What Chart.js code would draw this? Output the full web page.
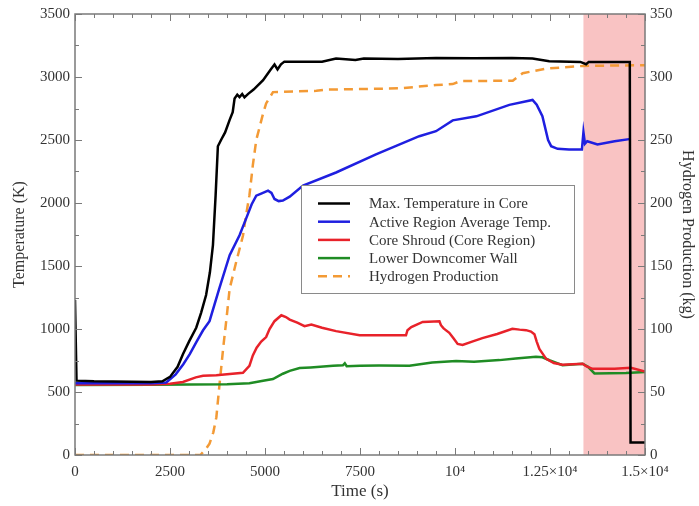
<!DOCTYPE html>
<html>
<head>
<meta charset="UTF-8">
<title>Core Temperatures and Hydrogen Production</title>
<script src="https://cdn.jsdelivr.net/npm/chart.js"></script>
<style>
    body { margin: 0; background: #fff; }
    #chart { display: block; }
</style>
</head>
<body>
<canvas id="chart" width="699" height="506"></canvas>
<script>
    // Values
    const maxTempTime  = [0, 40, 500, 1000, 1500, 2000, 2300, 2500, 2700, 2840, 3000, 3190, 3320, 3450, 3550, 3630, 3700, 3760, 3850, 3950, 4070, 4150, 4200, 4270, 4330, 4400, 4460, 4550, 4700, 4950, 5150, 5250, 5330, 5420, 5510, 6500, 6870, 7380, 7600, 8500, 9500, 10500, 11500, 12040, 12480, 13300, 13450, 13520, 14600, 14620, 15000];
    const maxTempValue = [1230, 590, 585, 583, 582, 580, 585, 620, 700, 800, 900, 1010, 1130, 1270, 1450, 1665, 2058, 2450, 2504, 2560, 2660, 2720, 2830, 2860, 2840, 2865, 2838, 2864, 2900, 2975, 3060, 3099, 3060, 3100, 3122, 3122, 3146, 3135, 3146, 3142, 3150, 3148, 3150, 3146, 3125, 3120, 3101, 3120, 3120, 100, 100];

    const avgTempTime  = [0, 1000, 2000, 2400, 2650, 2850, 3020, 3200, 3370, 3540, 3800, 4070, 4330, 4500, 4650, 4770, 4900, 5080, 5170, 5250, 5360, 5470, 5650, 6000, 6870, 7920, 9060, 9500, 9940, 10560, 11430, 12040, 12150, 12300, 12450, 12530, 12700, 13000, 13340, 13380, 13420, 13480, 13750, 14200, 14630];
    const avgTempValue = [570, 570, 570, 575, 640, 720, 800, 900, 990, 1062, 1324, 1586, 1744, 1874, 1990, 2058, 2075, 2098, 2080, 2032, 2015, 2019, 2050, 2139, 2242, 2386, 2530, 2570, 2656, 2688, 2779, 2818, 2780, 2689, 2500, 2451, 2430, 2425, 2425, 2562, 2470, 2490, 2464, 2490, 2509];

    const shroudTime  = [0, 2000, 2500, 2840, 3180, 3370, 3720, 4000, 4420, 4590, 4680, 4780, 4900, 5030, 5120, 5250, 5430, 5550, 5650, 5850, 6040, 6220, 6500, 6870, 7490, 8710, 8750, 8850, 9150, 9590, 9630, 9700, 9850, 9950, 10070, 10200, 10450, 10720, 11110, 11510, 11700, 11870, 12000, 12090, 12150, 12220, 12400, 12600, 12830, 13360, 13450, 13620, 14200, 14630, 15000];
    const shroudValue = [560, 560, 565, 580, 616, 629, 633, 640, 652, 708, 790, 852, 900, 936, 999, 1062, 1109, 1095, 1075, 1050, 1022, 1036, 1010, 983, 951, 950, 990, 1015, 1056, 1062, 1030, 1005, 970, 930, 881, 873, 900, 928, 960, 1001, 995, 991, 980, 959, 900, 841, 763, 730, 716, 724, 705, 684, 685, 692, 663];

    const downcomerTime  = [0, 2000, 4000, 4590, 4950, 5210, 5470, 5650, 5910, 6200, 6790, 7050, 7100, 7150, 7500, 8000, 8800, 9400, 10030, 10500, 11170, 11600, 12130, 12300, 12500, 12830, 13360, 13500, 13670, 14500, 15000];
    const downcomerValue = [555, 558, 562, 569, 590, 603, 645, 668, 690, 695, 708, 712, 728, 705, 708, 710, 708, 734, 747, 740, 753, 765, 779, 775, 750, 713, 724, 700, 647, 650, 658];

    const hydrogenTime  = [0, 3300, 3450, 3540, 3640, 3720, 3800, 3900, 4000, 4070, 4240, 4420, 4500, 4590, 4680, 4770, 4950, 5030, 5210, 6350, 6620, 8540, 9500, 9940, 10150, 11520, 11780, 12400, 13370, 15000];
    const hydrogenValue = [0, 0, 5, 9, 18, 30, 55, 85, 112, 132, 153, 174, 190, 206, 230, 250, 271, 279, 288, 289, 290, 291, 293.6, 294.4, 296.8, 297, 303, 306.7, 308.8, 309.4];

    const seriesLabels = ['Max. Temperature in Core', 'Active Region Average Temp.', 'Core Shroud (Core Region)', 'Lower Downcomer Wall', 'Hydrogen Production'];

    const xTickValues = [0, 2500, 5000, 7500, 10000, 12500, 15000];
    const xTickLabels = ['0', '2500', '5000', '7500', '10\u2074', '1.25\u00d710\u2074', '1.5\u00d710\u2074'];

    const shadeStart = 13380;
    const shadeEnd = 15000;

    const serif = "'Liberation Serif', 'DejaVu Serif', serif";
    const axisColor = '#7a7a7a';
    const textColor = '#333333';

    function toPoints(xs, ys) {
        return xs.map((x, i) => ({ x: x, y: ys[i] }));
    }

    // pink band for the late period
    const shadePlugin = {
        id: 'shade',
        beforeDatasetsDraw(chart) {
            const { ctx, chartArea, scales } = chart;
            const x0 = scales.x.getPixelForValue(shadeStart);
            const x1 = scales.x.getPixelForValue(shadeEnd);
            ctx.save();
            ctx.fillStyle = '#f9c3c3';
            ctx.fillRect(x0, chartArea.top, x1 - x0, chartArea.bottom - chartArea.top);
            ctx.restore();
        }
    };

    // box round the plot with inward ticks on all four sides
    const framePlugin = {
        id: 'frame',
        afterDatasetsDraw(chart) {
            const { ctx, chartArea: a, scales } = chart;
            ctx.save();
            ctx.strokeStyle = axisColor;
            ctx.lineWidth = 1;
            for (let v = 0; v <= 15000; v += 500) {
                const px = Math.round(scales.x.getPixelForValue(v)) + 0.5;
                const len = v % 2500 === 0 ? 7 : 4;
                ctx.beginPath();
                ctx.moveTo(px, a.bottom); ctx.lineTo(px, a.bottom - len);
                ctx.moveTo(px, a.top); ctx.lineTo(px, a.top + len);
                ctx.stroke();
            }
            for (let v = 0; v <= 3500; v += 250) {
                const py = Math.round(scales.y.getPixelForValue(v)) + 0.5;
                const len = v % 500 === 0 ? 7 : 4;
                ctx.beginPath();
                ctx.moveTo(a.left, py); ctx.lineTo(a.left + len, py);
                ctx.stroke();
            }
            for (let v = 0; v <= 350; v += 25) {
                const py = Math.round(scales.y1.getPixelForValue(v)) + 0.5;
                const len = v % 50 === 0 ? 7 : 4;
                ctx.beginPath();
                ctx.moveTo(a.right, py); ctx.lineTo(a.right - len, py);
                ctx.stroke();
            }
            ctx.lineWidth = 1.5;
            ctx.strokeRect(a.left, a.top, a.right - a.left, a.bottom - a.top);
            ctx.restore();
        }
    };

    // legend box inside the plot
    const legendPlugin = {
        id: 'legendBox',
        afterDraw(chart) {
            const ctx = chart.ctx;
            const left = 301, top = 185, width = 273, height = 108;
            ctx.save();
            ctx.fillStyle = '#fff';
            ctx.fillRect(left, top, width, height);
            ctx.strokeStyle = '#8a8a8a';
            ctx.lineWidth = 1;
            ctx.strokeRect(left + 0.5, top + 0.5, width, height);
            ctx.font = '15px ' + serif;
            ctx.textBaseline = 'middle';
            chart.data.datasets.forEach((ds, i) => {
                const y = 203.5 + i * 18.2;
                ctx.strokeStyle = ds.borderColor;
                ctx.lineWidth = 2.5;
                ctx.setLineDash(ds.borderDash || []);
                ctx.beginPath();
                ctx.moveTo(318, y);
                ctx.lineTo(350, y);
                ctx.stroke();
                ctx.setLineDash([]);
                ctx.fillStyle = textColor;
                ctx.fillText(ds.label, 369, y + 1);
            });
            ctx.restore();
        }
    };

    function line(label, xs, ys, color, extra) {
        return Object.assign({
            label: label,
            data: toPoints(xs, ys),
            borderColor: color,
            backgroundColor: color,
            borderWidth: 2.5,
            pointRadius: 0,
            tension: 0,
            yAxisID: 'y'
        }, extra || {});
    }

    function plainTick(v) {
        return String(v);
    }

    new Chart(document.getElementById('chart'), {
        type: 'line',
        data: {
            datasets: [
                line(seriesLabels[0], maxTempTime, maxTempValue, '#000000'),
                line(seriesLabels[1], avgTempTime, avgTempValue, '#1f1fe0'),
                line(seriesLabels[2], shroudTime, shroudValue, '#e8222a'),
                line(seriesLabels[3], downcomerTime, downcomerValue, '#1f8c24'),
                line(seriesLabels[4], hydrogenTime, hydrogenValue, '#f39a35', { borderDash: [9, 6], yAxisID: 'y1' })
            ]
        },
        options: {
            responsive: false,
            animation: false,
            layout: { padding: { top: 9, left: 0, right: 0, bottom: 0 } },
            plugins: {
                legend: { display: false },
                tooltip: { enabled: false }
            },
            scales: {
                x: {
                    type: 'linear',
                    min: 0,
                    max: 15000,
                    grid: { display: false, drawTicks: false },
                    border: { display: false },
                    ticks: {
                        stepSize: 2500,
                        autoSkip: false,
                        maxRotation: 0,
                        padding: 8,
                        color: textColor,
                        font: { family: serif, size: 15 },
                        callback: function(v) {
                            const i = xTickValues.indexOf(v);
                            return i >= 0 ? xTickLabels[i] : '';
                        }
                    },
                    title: {
                        display: true,
                        text: 'Time (s)',
                        color: textColor,
                        font: { family: serif, size: 17 },
                        padding: { top: 0, bottom: 4 }
                    },
                    afterFit: function(s) { s.height = 51; }
                },
                y: {
                    position: 'left',
                    min: 0,
                    max: 3500,
                    grid: { display: false, drawTicks: false },
                    border: { display: false },
                    ticks: {
                        stepSize: 500,
                        padding: 5,
                        color: textColor,
                        font: { family: serif, size: 15 },
                        callback: plainTick
                    },
                    title: {
                        display: true,
                        text: 'Temperature (K)',
                        color: textColor,
                        font: { family: serif, size: 16 },
                        padding: { top: 10, bottom: 0 }
                    },
                    afterFit: function(s) { s.width = 75; }
                },
                y1: {
                    position: 'right',
                    min: 0,
                    max: 350,
                    grid: { display: false, drawTicks: false },
                    border: { display: false },
                    ticks: {
                        stepSize: 50,
                        padding: 5,
                        color: textColor,
                        font: { family: serif, size: 15 },
                        callback: plainTick
                    },
                    title: {
                        display: true,
                        text: 'Hydrogen Production (kg)',
                        color: textColor,
                        font: { family: serif, size: 16 },
                        padding: { top: 2, bottom: 0 }
                    },
                    afterFit: function(s) { s.width = 54; }
                }
            }
        },
        plugins: [shadePlugin, framePlugin, legendPlugin]
    });
</script>
</body>
</html>
